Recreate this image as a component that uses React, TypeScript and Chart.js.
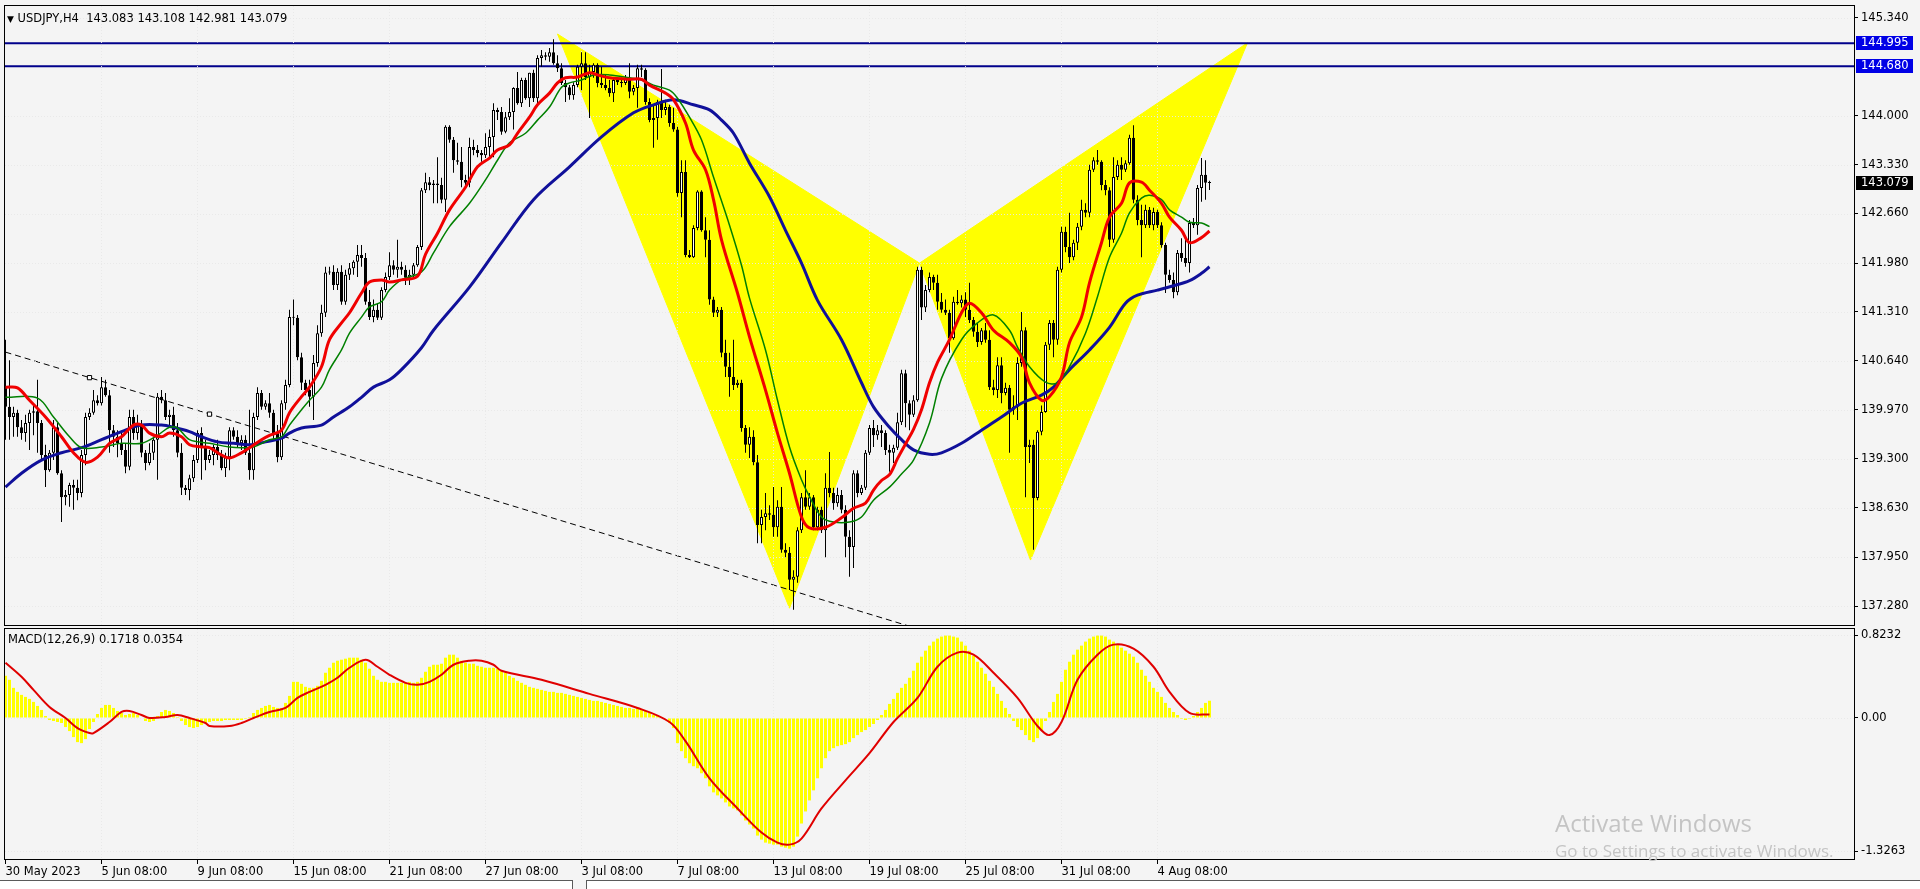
import React, { useEffect, useRef } from "react";
import { Chart, registerables } from "chart.js";

Chart.register(...registerables);

// ---------- DATA (USDJPY, H4) ----------
const opens = [140.28,140.01,139.87,139.93,139.73,139.65,139.79,139.93,139.95,139.79,
139.35,139.14,139.38,139.73,139.10,138.77,138.80,138.94,138.90,138.83,
139.35,139.87,139.93,140.10,140.06,140.28,140.17,139.69,139.60,139.51,
139.42,139.19,139.87,139.65,139.76,139.38,139.24,139.38,139.56,140.15,
140.10,139.87,139.90,139.69,139.38,138.90,138.87,139.03,139.28,139.65,
139.46,139.28,139.35,139.46,139.35,139.17,139.32,139.69,139.60,139.51,
139.56,139.38,139.14,139.87,140.20,140.01,140.06,139.93,139.65,139.32,
140.06,140.31,141.24,141.23,140.69,140.34,140.24,140.15,140.61,141.02,
141.30,141.85,141.86,141.68,141.86,141.45,141.82,141.91,142.00,142.09,
142.05,141.45,141.24,141.34,141.23,141.61,141.79,141.95,141.89,141.93,
141.89,141.78,141.82,141.95,142.20,142.98,143.09,143.05,143.07,143.05,
142.85,143.85,143.67,143.39,143.37,143.12,143.08,143.57,143.53,143.49,
143.46,143.57,143.71,144.08,144.05,143.78,143.98,144.05,144.38,144.17,
144.49,144.24,144.59,144.24,144.79,144.83,144.81,144.87,144.72,144.65,
144.45,144.39,144.28,144.42,144.67,144.72,144.53,144.60,144.70,144.45,
144.42,144.38,144.31,144.49,144.46,144.45,144.52,144.33,144.38,144.65,
144.63,144.19,143.94,143.97,144.19,144.08,144.12,143.90,143.81,142.94,
143.23,142.09,142.06,142.46,142.96,142.43,142.30,141.48,141.30,141.34,
140.75,140.56,140.42,140.31,140.34,139.72,139.49,139.60,139.25,138.39,
138.50,138.55,138.53,138.36,138.64,138.05,138.01,137.64,137.68,138.32,
138.77,138.64,138.77,138.36,138.60,138.32,138.90,138.83,138.69,138.80,
138.60,138.23,138.09,139.10,138.83,138.90,139.38,139.72,139.62,139.69,
139.65,139.42,139.38,139.45,139.80,140.47,140.06,139.90,140.10,141.89,
141.37,141.61,141.79,141.71,141.45,141.34,141.30,140.95,141.45,141.43,
141.48,141.34,141.20,141.04,140.90,141.06,140.93,140.28,140.24,140.58,
140.20,140.27,139.97,140.01,140.61,141.06,139.46,139.49,138.76,139.67,
139.94,140.86,141.16,140.93,141.89,142.41,142.20,142.06,142.26,142.48,
142.71,142.67,143.26,143.39,143.37,143.05,142.98,142.30,143.16,143.33,
143.26,143.35,143.70,142.85,142.57,142.50,142.71,142.50,142.68,142.50,
142.23,141.82,141.75,141.58,142.12,142.05,141.98,142.53,142.50,143.01,
143.19,143.083];

const highs = [140.93,140.65,140.01,139.97,139.83,139.90,139.97,140.03,140.38,139.83,
139.49,139.42,139.83,139.79,139.14,138.87,138.97,139.01,139.01,139.42,
139.93,139.99,140.24,140.17,140.42,140.38,140.24,139.76,139.69,139.65,
139.51,139.97,139.97,139.90,139.83,139.42,139.51,139.60,140.20,140.24,
140.20,139.97,140.01,139.79,139.51,138.94,139.08,139.35,139.69,139.73,
139.56,139.42,139.49,139.56,139.42,139.38,139.73,139.73,139.69,139.62,
139.62,139.97,139.93,140.28,140.24,140.10,140.20,139.97,139.76,140.10,
140.38,141.34,141.48,141.27,140.75,140.38,140.38,140.72,141.13,141.41,
141.93,141.93,141.95,141.91,141.95,141.89,141.98,142.02,142.23,142.23,
142.12,141.61,141.48,141.43,141.65,141.85,142.13,142.02,142.30,142.00,
141.95,141.89,141.98,142.23,143.01,143.22,143.16,143.12,143.43,143.15,
143.87,143.87,143.71,143.63,143.57,143.19,143.70,143.67,143.60,143.53,
143.76,143.81,144.17,144.11,144.12,144.05,144.24,144.39,144.60,144.52,
144.52,144.59,144.63,144.83,144.90,144.87,144.93,145.05,144.83,144.72,
144.49,144.42,144.46,144.70,144.87,144.87,144.70,144.72,144.72,144.67,
144.56,144.49,144.52,144.53,144.52,144.56,144.72,144.42,144.70,144.70,
144.65,144.24,144.15,144.22,144.64,144.22,144.15,144.11,143.85,143.39,
143.39,142.16,142.50,142.98,142.98,142.61,142.43,141.52,141.38,141.38,
140.93,140.75,140.93,140.38,140.38,139.76,139.73,139.69,139.35,138.60,
138.83,138.66,138.91,138.73,138.91,138.14,138.09,137.77,138.36,138.83,
139.14,138.83,138.80,138.64,138.64,139.10,139.39,138.90,138.90,138.87,
138.66,138.32,139.14,139.14,138.94,139.42,139.76,139.83,139.76,139.76,
139.69,139.49,139.49,139.93,140.52,140.52,140.10,140.17,141.93,141.93,
141.68,141.85,141.82,141.82,141.57,141.48,141.34,141.52,141.61,141.54,
141.58,141.71,141.24,141.16,141.09,141.16,141.06,140.38,140.69,140.69,
140.34,140.31,140.17,140.69,141.31,141.10,139.56,139.56,139.69,140.03,
140.90,141.20,141.20,141.93,142.48,142.48,142.67,142.30,142.53,142.85,
142.80,143.33,143.43,143.53,143.39,143.12,143.02,143.43,143.39,143.43,
143.39,143.74,143.87,142.91,142.78,142.78,142.75,142.74,142.71,142.54,
142.26,141.89,141.85,142.16,142.32,142.34,142.57,142.60,143.05,143.42,
143.39,143.108];

const lows = [139.56,139.56,139.60,139.60,139.56,139.53,139.42,139.62,139.38,139.28,
138.91,139.12,139.28,139.08,138.43,138.66,138.64,138.60,138.73,138.77,
139.21,139.83,139.90,140.03,140.03,140.15,139.38,139.46,139.32,139.35,
139.10,139.14,139.56,139.56,139.32,139.14,139.21,139.28,139.01,140.06,
139.83,139.76,139.60,139.32,138.80,138.80,138.73,138.98,139.24,139.01,
139.14,139.24,139.21,139.28,139.14,139.05,139.14,139.56,139.46,139.42,
139.35,139.01,139.01,139.83,139.97,139.97,139.86,139.56,139.25,139.28,
139.97,140.28,141.13,140.65,140.24,140.17,140.01,139.83,140.56,140.97,
141.24,141.82,141.61,141.61,141.41,141.41,141.75,141.82,141.79,141.93,
141.41,141.20,141.17,141.20,141.20,141.58,141.75,141.82,141.78,141.82,
141.68,141.68,141.78,141.93,142.16,142.94,142.98,142.80,142.80,142.80,
142.68,143.63,143.22,143.33,143.02,143.05,143.02,143.46,143.43,143.37,
143.42,143.43,143.43,143.94,143.74,143.76,143.94,143.81,144.15,144.12,
144.22,144.12,144.19,144.15,144.67,144.76,144.74,144.70,144.60,144.42,
144.19,144.22,144.22,144.39,144.35,144.49,143.97,144.52,144.39,144.38,
144.35,144.26,144.19,144.42,144.39,144.42,144.24,144.28,144.11,144.53,
144.15,143.91,143.56,143.67,143.97,144.01,143.85,143.78,142.89,142.61,
142.06,142.05,142.05,142.43,142.41,142.06,141.41,141.24,141.24,140.69,
140.42,140.15,140.24,140.27,139.67,139.38,139.31,139.21,138.14,138.14,
138.32,138.46,138.23,138.23,138.01,137.95,137.50,137.23,137.60,138.28,
138.60,138.60,138.32,138.32,138.28,137.95,138.77,138.60,138.64,138.55,
137.95,137.68,137.80,138.77,138.80,138.87,139.35,139.46,139.56,139.46,
139.35,139.12,139.24,139.42,139.76,139.73,139.69,139.87,140.08,141.20,
141.31,141.58,141.61,141.34,141.30,141.27,140.75,140.93,141.41,141.37,
141.24,141.16,140.97,140.83,140.86,140.89,140.24,140.17,140.13,140.06,
140.17,139.38,139.90,139.83,140.56,138.77,139.24,138.05,138.73,139.62,
139.93,140.79,140.69,140.86,141.85,142.13,141.98,142.02,142.16,142.43,
142.61,142.61,143.23,143.33,142.98,142.91,142.20,142.26,143.12,143.12,
143.23,143.33,142.80,142.50,142.06,142.46,142.46,142.43,142.46,142.19,
141.57,141.71,141.50,141.54,142.00,141.93,141.85,142.46,142.37,142.82,
142.85,142.981];

const closes = [140.01,139.87,139.93,139.73,139.65,139.79,139.93,139.95,139.79,139.35,
139.14,139.38,139.73,139.10,138.77,138.80,138.94,138.90,138.83,139.35,
139.87,139.93,140.10,140.06,140.28,140.17,139.69,139.60,139.51,139.42,
139.19,139.87,139.65,139.76,139.38,139.24,139.38,139.56,140.15,140.10,
139.87,139.90,139.69,139.38,138.90,138.87,139.03,139.28,139.65,139.46,
139.28,139.35,139.46,139.35,139.17,139.32,139.69,139.60,139.51,139.56,
139.38,139.14,139.87,140.20,140.01,140.06,139.93,139.65,139.32,140.06,
140.31,141.24,141.23,140.69,140.34,140.24,140.15,140.61,141.02,141.30,
141.85,141.86,141.68,141.86,141.45,141.82,141.91,142.00,142.09,142.05,
141.45,141.24,141.34,141.23,141.61,141.79,141.95,141.89,141.93,141.89,
141.78,141.82,141.95,142.20,142.98,143.09,143.05,143.07,143.05,142.85,
143.85,143.67,143.39,143.37,143.12,143.08,143.57,143.53,143.49,143.46,
143.57,143.71,144.08,144.05,143.78,143.98,144.05,144.38,144.17,144.49,
144.24,144.59,144.24,144.79,144.83,144.81,144.87,144.72,144.65,144.45,
144.39,144.28,144.42,144.67,144.72,144.53,144.60,144.70,144.45,144.42,
144.38,144.31,144.49,144.46,144.45,144.52,144.33,144.38,144.65,144.63,
144.19,143.94,143.97,144.19,144.08,144.12,143.90,143.81,142.94,143.23,
142.09,142.06,142.46,142.96,142.43,142.30,141.48,141.30,141.34,140.75,
140.56,140.42,140.31,140.34,139.72,139.49,139.60,139.25,138.39,138.50,
138.55,138.53,138.36,138.64,138.05,138.01,137.64,137.68,138.32,138.77,
138.64,138.77,138.36,138.60,138.32,138.90,138.83,138.69,138.80,138.60,
138.23,138.09,139.10,138.83,138.90,139.38,139.72,139.62,139.69,139.65,
139.42,139.38,139.45,139.80,140.47,140.06,139.90,140.10,141.89,141.37,
141.61,141.79,141.71,141.45,141.34,141.30,140.95,141.45,141.43,141.48,
141.34,141.20,141.04,140.90,141.06,140.93,140.28,140.24,140.58,140.20,
140.27,139.97,140.01,140.61,141.06,139.46,139.49,138.76,139.67,139.94,
140.86,141.16,140.93,141.89,142.41,142.20,142.06,142.26,142.48,142.71,
142.67,143.26,143.39,143.37,143.05,142.98,142.30,143.16,143.33,143.26,
143.35,143.70,142.85,142.57,142.50,142.71,142.50,142.68,142.50,142.23,
141.82,141.75,141.58,142.12,142.05,141.98,142.53,142.50,143.01,143.19,
143.083,143.079];

// moving averages (bar index, price)
const maRedBars = [0,3,6,10,14,17,20,23,26,29,32,34,36,39,41,44,46,49,51,54,56,59,61,64,66,69,71,74,76,79,81,84,86,89,91,94,96,99,103,105,108,111,115,118,121,123,126,128,131,133,136,138,140,143,146,148,151,156,159,161,165,167,170,172,175,177,179,183,186,190,193,196,199,201,205,209,212,215,217,219,221,223,225,227,229,231,233,236,239,241,244,247,251,254,256,259,261,264,266,269,271,274,276,279,281,284,286,289,291,294,296,299,301];
const maRedVals = [140.28,140.27,140.10,139.87,139.60,139.38,139.25,139.32,139.51,139.60,139.76,139.76,139.65,139.60,139.65,139.60,139.49,139.46,139.45,139.35,139.31,139.38,139.45,139.56,139.62,139.69,139.93,140.15,140.28,140.56,140.93,141.16,141.30,141.57,141.72,141.75,141.72,141.75,141.80,142.10,142.39,142.71,143.02,143.30,143.42,143.53,143.60,143.76,143.98,144.15,144.31,144.45,144.52,144.53,144.59,144.56,144.52,144.50,144.50,144.42,144.31,144.22,143.90,143.53,143.26,142.85,142.30,141.57,140.97,140.24,139.65,139.10,138.50,138.35,138.36,138.49,138.62,138.69,138.87,139.00,139.08,139.30,139.50,139.70,139.97,140.34,140.62,140.93,141.30,141.43,141.30,141.06,140.89,140.69,140.34,140.10,140.15,140.42,140.89,141.24,141.71,142.26,142.61,142.80,143.08,143.09,142.98,142.80,142.61,142.43,142.26,142.33,142.42];

const maGreenBars = [0,8,12,16,19,24,29,34,38,41,43,46,51,56,59,62,66,69,71,74,76,79,81,84,86,89,91,94,96,99,104,107,111,116,120,123,126,130,133,136,139,141,144,147,151,156,159,162,166,168,171,174,177,181,184,186,190,193,196,199,201,204,207,211,214,217,221,224,227,231,234,239,243,247,251,253,256,260,263,266,270,273,276,279,281,284,286,289,291,294,296,299,301];
const maGreenVals = [140.14,140.13,139.87,139.60,139.45,139.46,139.51,139.51,139.62,139.73,139.72,139.56,139.51,139.46,139.45,139.46,139.56,139.60,139.76,139.97,140.10,140.28,140.52,140.79,141.02,141.24,141.38,141.45,141.61,141.75,141.86,142.12,142.48,142.80,143.12,143.39,143.63,143.76,143.94,144.12,144.39,144.45,144.49,144.56,144.56,144.52,144.49,144.42,144.35,144.24,143.98,143.67,143.16,142.50,141.95,141.50,140.79,140.10,139.46,139.01,138.78,138.50,138.43,138.43,138.50,138.73,138.91,139.09,139.28,139.79,140.40,140.93,141.16,141.27,141.06,140.83,140.56,140.35,140.34,140.56,141.02,141.52,142.06,142.39,142.67,142.87,142.91,142.85,142.71,142.61,142.54,142.53,142.48];

const maBlueBars = [0,4,9,14,19,24,29,34,39,42,46,49,53,57,61,65,69,71,74,79,82,86,89,92,96,99,104,107,116,124,132,141,149,157,162,167,172,176,179,182,186,191,195,199,203,209,214,217,221,224,227,231,234,239,244,249,254,259,262,266,271,276,280,283,288,292,296,299,301];
const maBlueVals = [138.91,139.10,139.28,139.38,139.45,139.56,139.67,139.76,139.76,139.73,139.67,139.60,139.53,139.51,139.49,139.53,139.58,139.65,139.72,139.76,139.87,140.01,140.14,140.28,140.38,140.52,140.82,141.06,141.65,142.26,142.85,143.30,143.71,144.04,144.15,144.22,144.15,144.08,143.94,143.76,143.35,142.89,142.43,141.98,141.47,140.93,140.34,140.01,139.73,139.56,139.42,139.36,139.38,139.51,139.69,139.87,140.06,140.17,140.28,140.52,140.79,141.10,141.43,141.54,141.61,141.67,141.74,141.84,141.93];

// MACD(12,26,9): histogram per bar, signal line (bar, value)
const macdHist = [0.42,0.38,0.30,0.26,0.23,0.21,0.19,0.16,0.12,0.08,
0.02,-0.02,-0.03,-0.04,-0.05,-0.09,-0.13,-0.19,-0.24,-0.25,
-0.21,-0.11,-0.04,0.04,0.10,0.13,0.13,0.10,0.07,0.05,
0.03,0.04,0.05,0.03,0.00,-0.03,-0.04,-0.03,0.02,0.06,
0.08,0.07,0.05,0.01,-0.03,-0.07,-0.09,-0.10,-0.09,-0.07,
-0.05,-0.04,-0.03,-0.03,-0.03,-0.02,-0.02,-0.02,-0.02,-0.02,
-0.01,0.01,0.05,0.08,0.10,0.12,0.13,0.11,0.10,0.10,
0.15,0.22,0.36,0.36,0.34,0.31,0.30,0.30,0.32,0.37,
0.45,0.50,0.55,0.57,0.58,0.59,0.60,0.60,0.60,0.58,
0.55,0.49,0.42,0.38,0.36,0.36,0.35,0.35,0.35,0.35,
0.35,0.36,0.35,0.36,0.40,0.46,0.51,0.53,0.53,0.54,
0.60,0.63,0.63,0.60,0.57,0.55,0.54,0.54,0.52,0.51,
0.50,0.50,0.50,0.49,0.47,0.45,0.42,0.40,0.37,0.35,
0.33,0.31,0.30,0.29,0.28,0.27,0.26,0.26,0.25,0.25,
0.24,0.23,0.22,0.21,0.20,0.19,0.18,0.17,0.17,0.16,
0.15,0.14,0.13,0.12,0.11,0.10,0.10,0.09,0.10,0.09,
0.07,0.05,0.03,0.02,0.01,0.00,-0.05,-0.10,-0.25,-0.33,
-0.40,-0.45,-0.48,-0.50,-0.55,-0.60,-0.68,-0.74,-0.77,-0.80,
-0.84,-0.88,-0.90,-0.92,-0.97,-1.02,-1.06,-1.10,-1.17,-1.21,
-1.24,-1.25,-1.26,-1.26,-1.28,-1.29,-1.30,-1.28,-1.18,-1.05,
-0.93,-0.82,-0.72,-0.60,-0.50,-0.40,-0.33,-0.30,-0.28,-0.27,
-0.26,-0.24,-0.20,-0.17,-0.14,-0.12,-0.09,-0.06,-0.02,0.03,
0.08,0.14,0.19,0.25,0.30,0.34,0.40,0.47,0.55,0.61,
0.67,0.72,0.76,0.79,0.81,0.82,0.82,0.81,0.80,0.76,
0.72,0.67,0.62,0.56,0.50,0.44,0.37,0.31,0.24,0.17,
0.10,0.04,-0.03,-0.09,-0.12,-0.17,-0.22,-0.24,-0.20,-0.12,
-0.03,0.06,0.16,0.24,0.36,0.48,0.56,0.63,0.68,0.72,
0.76,0.79,0.81,0.82,0.82,0.81,0.78,0.76,0.73,0.70,
0.67,0.64,0.61,0.55,0.48,0.42,0.36,0.30,0.26,0.21,
0.15,0.10,0.06,0.03,-0.01,-0.02,-0.01,0.02,0.06,0.10,
0.15,0.1718];

const signalBars = [0,4,7,11,15,18,21,22,26,29,31,34,36,40,43,46,50,51,56,59,62,66,70,73,76,80,83,86,90,93,96,100,103,106,109,112,116,119,122,124,134,146,158,166,170,176,183,189,193,196,199,204,210,216,222,228,233,238,242,247,253,258,261,264,268,273,277,282,287,291,296,301];
const signalVals = [0.55,0.41,0.28,0.11,0.00,-0.10,-0.15,-0.15,-0.04,0.06,0.07,0.03,0.00,0.01,0.03,0.00,-0.05,-0.08,-0.08,-0.05,0.00,0.06,0.10,0.20,0.26,0.33,0.40,0.50,0.58,0.51,0.43,0.35,0.33,0.36,0.43,0.53,0.57,0.57,0.53,0.47,0.38,0.24,0.10,-0.04,-0.23,-0.60,-0.90,-1.14,-1.24,-1.26,-1.20,-0.90,-0.62,-0.35,-0.04,0.20,0.51,0.65,0.63,0.45,0.20,-0.08,-0.17,-0.04,0.38,0.63,0.73,0.69,0.51,0.26,0.05,0.0354];

// harmonic pattern triangles (bar, price)
const tri1Bars = [138, 196, 228.5, 138];
const tri1Prices = [145.12, 137.25, 141.98, 145.12];
const tri2Bars = [228.5, 256.25, 310.5, 228.5];
const tri2Prices = [141.98, 137.91, 145.0, 141.98];

// dashed trend line and its anchors
const trendBars = [0, 240];
const trendPrices = [140.76, 136.77];
const anchorBars = [21, 51];
const anchorPrices = [140.41, 139.91];

// horizontal levels
const levelPrices = [144.995, 144.68];
const lastPrice = 143.079;

// axes
const priceTicks = [145.34, 144.0, 143.33, 142.66, 141.98, 141.31, 140.64, 139.97, 139.3, 138.63, 137.95, 137.28];
const macdTicks = [0.8232, 0, -1.3263];
const macdTickLabels = ["0.8232", "0.00", "-1.3263"];
const timeTickBars = [0, 24, 48, 72, 96, 120, 144, 168, 192, 216, 240, 264, 288];
const timeTickLabels = ["30 May 2023", "5 Jun 08:00", "9 Jun 08:00", "15 Jun 08:00", "21 Jun 08:00", "27 Jun 08:00", "3 Jul 08:00", "7 Jul 08:00", "13 Jul 08:00", "19 Jul 08:00", "25 Jul 08:00", "31 Jul 08:00", "4 Aug 08:00"];

// ---------- STYLE ----------
const BG = "#F4F4F4";
const FONT = "'DejaVu Sans', sans-serif";
const YELLOW = "#FFFF00";
const NAVY = "#00008B";
const GRID = "rgba(232,232,232,0.9)";
const X_MIN = -0.375;
const X_MAX = 462.375;
const WICK_INDEX = 6;

const pts = (xs: number[], ys: number[]) => xs.map((x, i) => ({ x, y: ys[i] }));

const framePlugin = {
  id: "frame",
  afterDatasetsDraw(chart: any) {
    const { ctx, chartArea: a } = chart;
    ctx.save();
    ctx.strokeStyle = "#000";
    ctx.lineWidth = 1;
    ctx.strokeRect(a.left + 0.5, a.top + 0.5, a.right - a.left - 1, a.bottom - a.top - 1);
    ctx.restore();
  },
};

// dotted grid drawn over the background objects but under the price bars
const makeGridPlugin = (beforeIndex: number) => ({
  id: "dottedGrid",
  beforeDatasetDraw(chart: any, args: any) {
    if (args.index !== beforeIndex) return;
    const { ctx, chartArea: a, scales } = chart;
    ctx.save();
    ctx.strokeStyle = GRID;
    ctx.lineWidth = 1;
    ctx.setLineDash([1, 2]);
    scales.y.ticks.forEach((t: any) => {
      const py = Math.round(scales.y.getPixelForValue(t.value)) + 0.5;
      ctx.beginPath();
      ctx.moveTo(a.left + 1, py);
      ctx.lineTo(a.right - 1, py);
      ctx.stroke();
    });
    scales.x.ticks.forEach((t: any) => {
      const px = Math.floor(scales.x.getPixelForValue(t.value)) + 0.5;
      if (px <= a.left + 2) return;
      ctx.beginPath();
      ctx.moveTo(px, a.top + 1);
      ctx.lineTo(px, a.bottom - 1);
      ctx.stroke();
    });
    ctx.restore();
  },
});

const priceBoxPlugin = {
  id: "priceBoxes",
  afterDraw(chart: any) {
    const { ctx, chartArea: a } = chart;
    const y = chart.scales.y;
    const box = (v: number, bg: string) => {
      const py = Math.round(y.getPixelForValue(v));
      ctx.save();
      ctx.fillStyle = bg;
      ctx.fillRect(a.right + 1, py - 7, 57, 14);
      ctx.fillStyle = "#fff";
      ctx.font = `11.5px ${FONT}`;
      ctx.textAlign = "left";
      ctx.textBaseline = "middle";
      ctx.fillText(v.toFixed(3), a.right + 6, py + 0.5);
      ctx.restore();
    };
    levelPrices.forEach((v) => box(v, "#0000E6"));
    box(lastPrice, "#000000");
  },
};

const fixY = (w: number) => (s: any) => {
  s.width = w;
  s.paddingTop = 0;
  s.paddingBottom = 0;
};

export default function App() {
  const mainRef = useRef<HTMLCanvasElement>(null);
  const macdRef = useRef<HTMLCanvasElement>(null);

  useEffect(() => {
    document.body.style.margin = "0";
    document.body.style.background = BG;
    Chart.defaults.font.family = FONT;
    Chart.defaults.font.size = 11.5;
    Chart.defaults.color = "#000";

    const idx = opens.map((_, i) => i);
    const bodyColors = opens.map((o, i) => (closes[i] >= o ? "#FFFFFF" : "#000000"));

    const main = new Chart(mainRef.current as HTMLCanvasElement, {
      type: "bar",
      data: {
        datasets: [
          { type: "line", data: pts(tri1Bars, tri1Prices), fill: "shape", backgroundColor: YELLOW, borderColor: YELLOW, borderWidth: 1, pointRadius: 0, tension: 0, order: 30 } as any,
          { type: "line", data: pts(tri2Bars, tri2Prices), fill: "shape", backgroundColor: YELLOW, borderColor: YELLOW, borderWidth: 1, pointRadius: 0, tension: 0, order: 29 } as any,
          ...levelPrices.map((v, k) => ({ type: "line", data: [{ x: X_MIN, y: v }, { x: X_MAX, y: v }], borderColor: NAVY, borderWidth: 2, pointRadius: 0, order: 20 + k } as any)),
          { type: "line", data: pts(trendBars, trendPrices), borderColor: "#000", borderWidth: 1, borderDash: [6, 4], pointRadius: 0, order: 18 } as any,
          { type: "line", data: pts(anchorBars, anchorPrices), showLine: false, pointStyle: "rect", pointRadius: 3, backgroundColor: "#fff", borderColor: "#000", pointBorderWidth: 1, order: 17 } as any,
          { type: "bar", data: idx.map((i) => ({ x: i, y: [lows[i], highs[i]] })), backgroundColor: "#000", barThickness: 1, grouped: false, inflateAmount: 0, borderWidth: 0, order: 10 } as any,
          { type: "bar", data: idx.map((i) => ({ x: i, y: [opens[i], closes[i]] })), backgroundColor: bodyColors, borderColor: "#000", borderWidth: 1, borderSkipped: false, barThickness: 3, minBarLength: 1, grouped: false, inflateAmount: 0, order: 9 } as any,
          { type: "line", data: pts(maBlueBars, maBlueVals), borderColor: "#10109A", borderWidth: 3, pointRadius: 0, tension: 0.35, order: 3 } as any,
          { type: "line", data: pts(maGreenBars, maGreenVals), borderColor: "#008000", borderWidth: 1.5, pointRadius: 0, tension: 0.35, order: 2 } as any,
          { type: "line", data: pts(maRedBars, maRedVals), borderColor: "#F00000", borderWidth: 3, pointRadius: 0, tension: 0.35, order: 1 } as any,
        ],
      },
      options: {
        animation: false,
        responsive: false,
        events: [],
        layout: { autoPadding: false, padding: { top: 5, left: 4, right: 0, bottom: 1 } },
        plugins: { legend: { display: false }, tooltip: { enabled: false } },
        scales: {
          x: {
            type: "linear",
            min: X_MIN,
            max: X_MAX,
            offset: false,
            bounds: "data",
            ticks: { display: false },
            grid: { drawOnChartArea: false, drawTicks: false, offset: false },
            border: { display: false },
            afterBuildTicks: (s: any) => { s.ticks = timeTickBars.map((v) => ({ value: v })); },
            afterFit: (s: any) => { s.height = 0; s.paddingLeft = 0; s.paddingRight = 0; },
          },
          y: {
            type: "linear",
            position: "right",
            min: 137.006,
            max: 145.518,
            bounds: "data",
            ticks: { autoSkip: false, padding: 3, color: "#000", callback: (v: any) => Number(v).toFixed(3) },
            grid: { drawOnChartArea: false, tickLength: 3, tickColor: "#000" },
            border: { display: false },
            afterBuildTicks: (s: any) => { s.ticks = priceTicks.map((v) => ({ value: v })); },
            afterFit: fixY(65),
          },
        },
      } as any,
      plugins: [makeGridPlugin(WICK_INDEX), framePlugin, priceBoxPlugin],
    });

    const macd = new Chart(macdRef.current as HTMLCanvasElement, {
      type: "bar",
      data: {
        datasets: [
          { type: "bar", data: idx.map((i) => ({ x: i, y: macdHist[i] })), backgroundColor: YELLOW, barThickness: 3, grouped: false, inflateAmount: 0, borderWidth: 0, order: 2 } as any,
          { type: "line", data: pts(signalBars, signalVals), borderColor: "#E00000", borderWidth: 2, pointRadius: 0, tension: 0.35, order: 1 } as any,
        ],
      },
      options: {
        animation: false,
        responsive: false,
        events: [],
        layout: { autoPadding: false, padding: { top: 8, left: 4, right: 0, bottom: 0 } },
        plugins: { legend: { display: false }, tooltip: { enabled: false } },
        scales: {
          x: {
            type: "linear",
            min: X_MIN,
            max: X_MAX,
            offset: false,
            bounds: "data",
            ticks: { autoSkip: false, align: "start", padding: 1, maxRotation: 0, minRotation: 0, color: "#000", callback: (v: any) => { const k = timeTickBars.indexOf(Number(v)); return k >= 0 ? timeTickLabels[k] : ""; } },
            grid: { drawOnChartArea: false, tickLength: 4, tickColor: "#000", offset: false },
            border: { display: false },
            afterBuildTicks: (s: any) => { s.ticks = timeTickBars.map((v) => ({ value: v })); },
            afterFit: (s: any) => { s.height = 29; s.paddingLeft = 0; s.paddingRight = 0; },
          },
          y: {
            type: "linear",
            position: "right",
            min: -1.4129,
            max: 0.8955,
            bounds: "data",
            ticks: { autoSkip: false, padding: 3, color: "#000", callback: (v: any) => { const k = macdTicks.indexOf(Number(v)); return k >= 0 ? macdTickLabels[k] : ""; } },
            grid: { drawOnChartArea: false, tickLength: 3, tickColor: "#000" },
            border: { display: false },
            afterBuildTicks: (s: any) => { s.ticks = macdTicks.map((v) => ({ value: v })); },
            afterFit: fixY(65),
          },
        },
      } as any,
      plugins: [makeGridPlugin(0), framePlugin],
    });

    return () => {
      main.destroy();
      macd.destroy();
    };
  }, []);

  const txt: React.CSSProperties = { position: "absolute", fontFamily: FONT, fontSize: "11.5px", color: "#000", whiteSpace: "pre", lineHeight: "14px" };
  const tab: React.CSSProperties = { position: "absolute", top: 880, height: 9, background: "#FFFFFF", borderTop: "1px solid #5A5A5A", boxSizing: "border-box" };

  return (
    <div style={{ position: "relative", width: 1920, height: 889, background: BG, overflow: "hidden" }}>
      <canvas ref={mainRef} width={1920} height={627} style={{ position: "absolute", left: 0, top: 0, display: "block" }} />
      <canvas ref={macdRef} width={1920} height={269} style={{ position: "absolute", left: 0, top: 620, display: "block" }} />
      <div style={{ ...txt, left: 7, top: 11 }}>
        <span style={{ fontSize: "9px" }}>▼</span> USDJPY,H4  143.083 143.108 142.981 143.079
      </div>
      <div style={{ ...txt, left: 8, top: 632 }}>MACD(12,26,9) 0.1718 0.0354</div>
      <div style={{ position: "absolute", left: 1555, top: 807, fontFamily: "'Open Sans', sans-serif", fontSize: "24px", color: "#C4C4C4", whiteSpace: "pre", lineHeight: "32px" }}>Activate Windows</div>
      <div style={{ position: "absolute", left: 1555, top: 840, fontFamily: "'Open Sans', sans-serif", fontSize: "17px", color: "#C4C4C4", whiteSpace: "pre", lineHeight: "22px" }}>Go to Settings to activate Windows.</div>
      <div style={{ ...tab, left: 0, width: 573, borderRight: "1px solid #5A5A5A" }} />
      <div style={{ ...tab, left: 586, width: 1334, borderLeft: "1px solid #5A5A5A" }} />
    </div>
  );
}
